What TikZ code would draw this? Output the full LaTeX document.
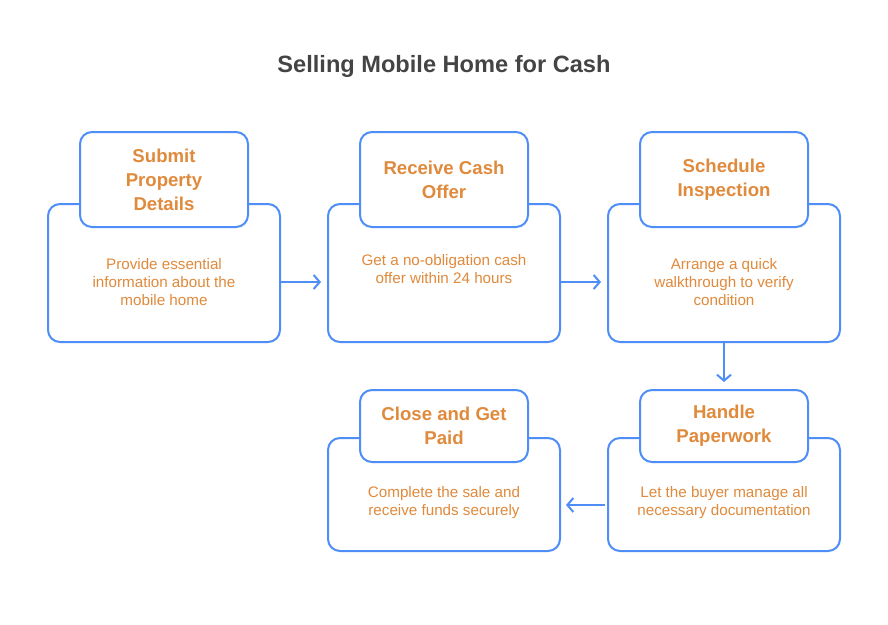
\documentclass[tikz,border=0pt]{standalone}
\usepackage{fontspec}
\setmainfont{Liberation Sans}
\usetikzlibrary{arrows.meta,positioning}
\definecolor{StepBlue}{HTML}{4F8EF7}
\definecolor{StepOrange}{HTML}{E08A3C}
\definecolor{HeadGrey}{HTML}{444444}
\begin{document}
\begin{tikzpicture}[x=1pt,y=-1pt,>={Straight Barb[length=6pt,width=14pt]},
 bodybox/.style={draw=StepBlue,line width=2pt,rounded corners=12pt,fill=white,minimum width=232pt,minimum height=#1},
 headbox/.style={draw=StepBlue,line width=2pt,rounded corners=12pt,fill=white,minimum width=168pt,minimum height=#1},
 headtext/.style={text=StepOrange,font=\fontsize{18.6}{24}\selectfont\bfseries,align=center},
 bodytext/.style={text=StepOrange,font=\fontsize{15.2}{18}\selectfont,align=center},
 link/.style={->,draw=StepBlue,line width=2pt}]
\useasboundingbox (0,0) rectangle (888,624);
\node[text=HeadGrey,font=\fontsize{23.6}{28}\selectfont\bfseries] (title) at (444,66){Selling Mobile Home for Cash};
% first row
\node[bodybox=138pt] (b1) at (164,273){}; \node[bodybox=138pt] (b2) at (444,273){}; \node[bodybox=138pt] (b3) at (724,273){};
\node[headbox=95pt] (h1) at (164,179.5){}; \node[headbox=95pt] (h2) at (444,179.5){}; \node[headbox=95pt] (h3) at (724,179.5){};
\node[headtext] (s1) at (h1){Submit\\Property\\Details}; \node[headtext] (s2) at (h2){Receive Cash\\Offer}; \node[headtext] (s3) at (h3){Schedule\\Inspection};
\node[bodytext] (t1) at (164,282){Provide essential\\information about the\\mobile home};
\node[bodytext] (t2) at (444,269){Get a no-obligation cash\\offer within 24 hours};
\node[bodytext] (t3) at (724,282){Arrange a quick\\walkthrough to verify\\condition};
% second row
\node[bodybox=113pt] (b4) at (724,494.5){}; \node[bodybox=113pt] (b5) at (444,494.5){};
\node[headbox=72pt] (h4) at (724,426){}; \node[headbox=72pt] (h5) at (444,426){};
\node[headtext] (s4) at (h4){Handle\\Paperwork}; \node[headtext] (s5) at (h5){Close and Get\\Paid};
\node[bodytext] (t4) at (724,503){Let the buyer manage all\\necessary documentation};
\node[bodytext] (t5) at (444,503){Complete the sale and\\receive funds securely};
% connectors
\draw[link,shorten >=6pt] (b1.east |- t1) -- (b2.west |- t1);
\draw[link,shorten >=6pt] (b2.east |- t1) -- (b3.west |- t1);
\draw[link,shorten >=7pt] (b3.south) -- (h4.north);
\draw[link,shorten >=5pt,shorten <=2pt] ([yshift=-2pt]b4.west |- t4) -- ([yshift=-2pt]b5.east |- t4);
\end{tikzpicture}
\end{document}
